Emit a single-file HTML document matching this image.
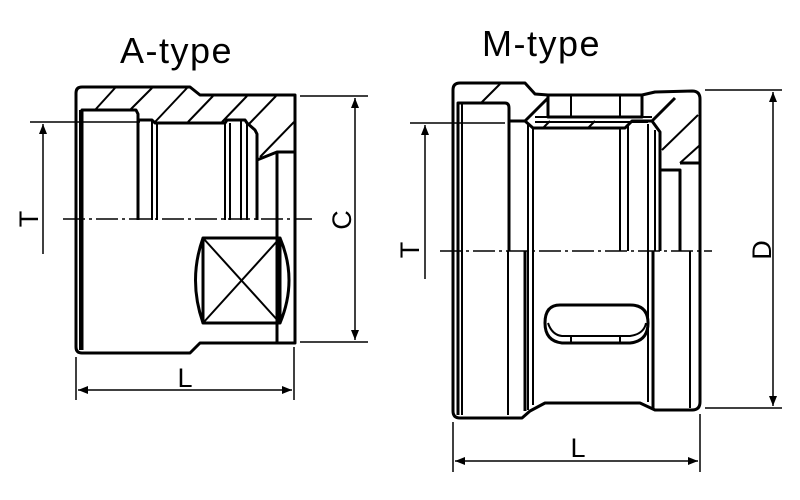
<!DOCTYPE html>
<html><head><meta charset="utf-8"><style>body{margin:0;background:#fff}svg{display:block}</style></head>
<body>
<svg width="800" height="500" viewBox="0 0 800 500" xmlns="http://www.w3.org/2000/svg">
<defs>
<marker id="a" markerWidth="10" markerHeight="8" refX="10" refY="4" orient="auto-start-reverse" markerUnits="userSpaceOnUse"><path d="M0,0 L10,4 L0,8 Z" fill="#000"/></marker>
</defs>
<g font-family="Liberation Sans, Arial, sans-serif" fill="#000">
<text x="120" y="63" font-size="36" letter-spacing="1.5">A-type</text>
<text x="482" y="56" font-size="36" letter-spacing="1.5">M-type</text>
</g>
<g fill="none" stroke="#000" stroke-width="3" stroke-linejoin="round">
<path d="M82,87 L190,87 L200,95 L295,95 L295,343 L200,343 L190,353 L82,353 Q76,353 76,347 L76,93 Q76,87 82,87 Z"/>
<path d="M82,350 L82,110 L136,110 L138,114 L138,220"/>
<path d="M138,120 L152,120 L155,123 L225,123 L227,120 L245,120 L247,123 L255,130 L257,134 L257,220"/>
<path d="M257,160 L277,152 L295,152"/>
<path d="M277,152 L277,343"/>
<rect x="203" y="238" width="77" height="85"/>
<path d="M203,238 Q188,280 203,323" />
<path d="M280,238 Q298,280 280,323"/>
</g>
<g fill="none" stroke="#000" stroke-width="2">
<line x1="80" y1="110" x2="80" y2="350"/>
<line x1="152" y1="120" x2="152" y2="220"/>
<line x1="157" y1="123" x2="157" y2="220"/>
<line x1="225" y1="123" x2="225" y2="220"/>
<line x1="230" y1="123" x2="230" y2="220"/>
<line x1="241" y1="120" x2="241" y2="220"/>
<line x1="247" y1="123" x2="247" y2="220"/>
<line x1="203" y1="238" x2="280" y2="323"/>
<line x1="280" y1="238" x2="203" y2="323"/>
<line x1="95" y1="110" x2="115" y2="88"/>
<line x1="130" y1="110" x2="152" y2="88"/>
<line x1="155" y1="122" x2="187" y2="88"/>
<line x1="188" y1="122" x2="213" y2="96"/>
<line x1="222" y1="122" x2="247" y2="96"/>
<line x1="248" y1="125" x2="276" y2="96"/>
<line x1="260" y1="157" x2="294" y2="122"/>
</g>
<g stroke="#000" stroke-width="1.5" stroke-dasharray="22,4,3,4">
<line x1="63" y1="219" x2="312" y2="219"/>
<line x1="440" y1="251" x2="712" y2="251"/>
</g>
<g stroke="#000" stroke-width="1.5" fill="none">
<line x1="30" y1="122" x2="140" y2="122"/>
<line x1="43" y1="124" x2="43" y2="254" marker-start="url(#a)"/>
<line x1="300" y1="96" x2="368" y2="96"/>
<line x1="300" y1="342" x2="368" y2="342"/>
<line x1="355" y1="98" x2="355" y2="340" marker-start="url(#a)" marker-end="url(#a)"/>
<line x1="76" y1="357" x2="76" y2="400"/>
<line x1="294" y1="347" x2="294" y2="400"/>
<line x1="78" y1="390" x2="292" y2="390" marker-start="url(#a)" marker-end="url(#a)"/>
</g>
<g font-family="Liberation Sans, Arial, sans-serif" font-size="27" fill="#000">
<text transform="translate(38,219) rotate(-90)" text-anchor="middle">T</text>
<text transform="translate(351,220) rotate(-90)" text-anchor="middle">C</text>
<text x="185" y="387" text-anchor="middle">L</text>
<text transform="translate(419,250) rotate(-90)" text-anchor="middle">T</text>
<text transform="translate(771,250) rotate(-90)" text-anchor="middle">D</text>
<text x="578" y="457" text-anchor="middle">L</text>
</g>
<g fill="none" stroke="#000" stroke-width="3" stroke-linejoin="round">
<path d="M460,83 L525,83 L535,94 L548,95 L642,95 L655,92 L692,91 Q700,91 700,99 L700,402 Q700,410 692,410 L655,410 L640,403 L545,403 L530,411 L522,418 L460,418 Q453,418 453,411 L453,90 Q453,83 460,83 Z"/>
<path d="M458,415 L458,103 L505,103 Q509,103 509,108 L509,251"/>
<path d="M509,121 L525,121 L533,128 L625,128 L632,121 L652,121 L660,132 L660,251"/>
<rect x="548" y="95" width="94" height="22"/>
<path d="M525,121 L548,98"/>
<path d="M652,121 L675,98"/>
<path d="M660,170 L680,170 L680,251"/>
<path d="M680,163 L700,163"/>
<path d="M525,251 L525,411"/>
<path d="M653,251 L653,410"/>
<path d="M560,305 L630,305 Q648,305 648,323 Q648,341 630,343 L562,343 Q545,341 545,323 Q545,305 560,305 Z"/>
</g>
<g fill="none" stroke="#000" stroke-width="2">
<line x1="462" y1="103" x2="462" y2="415"/>
<line x1="528" y1="124" x2="528" y2="410"/>
<line x1="533" y1="128" x2="533" y2="405"/>
<line x1="620" y1="128" x2="620" y2="251"/>
<line x1="628" y1="124" x2="628" y2="251"/>
<line x1="648" y1="124" x2="648" y2="402"/>
<line x1="655" y1="130" x2="655" y2="251"/>
<line x1="690" y1="251" x2="690" y2="408"/>
<line x1="508" y1="251" x2="508" y2="415"/>
<line x1="571" y1="95" x2="571" y2="117"/>
<line x1="620" y1="95" x2="620" y2="117"/>
<line x1="535" y1="117" x2="652" y2="117"/>
<line x1="535" y1="122" x2="648" y2="122"/>
<line x1="481" y1="103" x2="500" y2="84"/>
<line x1="543" y1="128" x2="550" y2="121"/>
<line x1="588" y1="128" x2="595" y2="121"/>
<line x1="662" y1="150" x2="698" y2="115"/>
<line x1="680" y1="163" x2="700" y2="145"/>
<path d="M548,323 Q552,335 562,336 L630,336 Q644,334 646,323"/>
<line x1="571" y1="336" x2="571" y2="343"/>
<line x1="620" y1="336" x2="620" y2="343"/>
</g>
<g stroke="#000" stroke-width="1.5" fill="none">
<line x1="410" y1="123" x2="505" y2="123"/>
<line x1="425" y1="125" x2="425" y2="279" marker-start="url(#a)"/>
<line x1="705" y1="90" x2="782" y2="90"/>
<line x1="705" y1="408" x2="782" y2="408"/>
<line x1="773" y1="92" x2="773" y2="406" marker-start="url(#a)" marker-end="url(#a)"/>
<line x1="453" y1="422" x2="453" y2="472"/>
<line x1="700" y1="414" x2="700" y2="472"/>
<line x1="455" y1="461" x2="698" y2="461" marker-start="url(#a)" marker-end="url(#a)"/>
</g>
</svg>
</body></html>
